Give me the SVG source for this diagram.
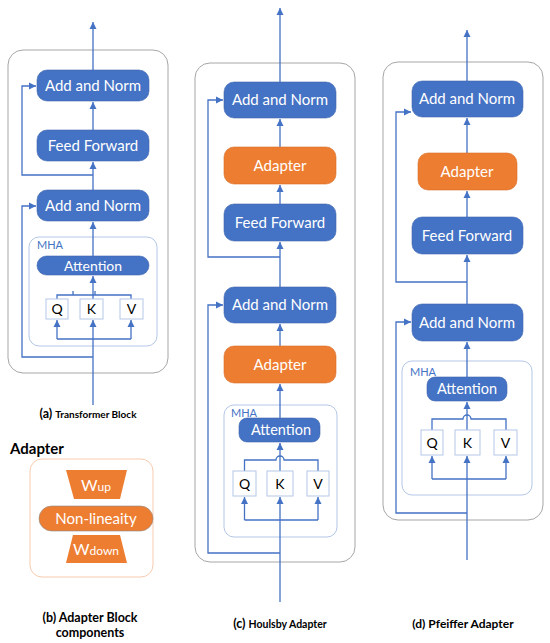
<svg xmlns="http://www.w3.org/2000/svg" width="550" height="643" viewBox="0 0 550 643">
<defs>
<marker id="ah" markerUnits="userSpaceOnUse" markerWidth="8" markerHeight="8" refX="7" refY="4" orient="auto">
<path d="M0,0.5 L7,4 L0,7.5 Z" fill="#4472C4"/>
</marker>
<style>
.frame{fill:#fff;stroke:#a6a6a6;stroke-width:1}
.mha{fill:none;stroke:#b4c7e7;stroke-width:1}
.bn{fill:#4472C4;stroke:#3f67b0;stroke-width:0.6}
.on{fill:#ED7D31;stroke:#d86f2a;stroke-width:0.6}
.qkv{fill:#fff;stroke:#b4c7e7;stroke-width:1}
.c{fill:none;stroke:#4472C4;stroke-width:1.3}
.a{marker-end:url(#ah)}
.t{font-family:Lato,"Liberation Sans",sans-serif;fill:#fff;text-anchor:middle}
.k{font-family:Lato,"Liberation Sans",sans-serif;fill:#000;text-anchor:middle;font-size:14px}
.m{font-family:Lato,"Liberation Sans",sans-serif;fill:#4472C4;font-size:11px}
.cap{font-family:Lato,"Liberation Sans",sans-serif;font-weight:bold;fill:#000;text-anchor:middle}
</style>
</defs>
<rect width="550" height="643" fill="#fff"/>

<!-- frames -->
<g id="frame-a"><rect class="frame" x="8" y="50" width="160" height="323" rx="15"/></g>
<g id="frame-c"><rect class="frame" x="195" y="63" width="160" height="499" rx="15"/></g>
<g id="frame-d"><rect class="frame" x="383" y="62" width="160" height="458" rx="15"/></g>
<g id="mha-a"><rect class="mha" x="29" y="237" width="128" height="109" rx="10"/><text class="m" x="37" y="249">MHA</text></g>
<g id="mha-c"><rect class="mha" x="224" y="405" width="113" height="132" rx="10"/><text class="m" x="231" y="417">MHA</text></g>
<g id="mha-d"><rect class="mha" x="402" y="361" width="130" height="134" rx="10"/><text class="m" x="410" y="376">MHA</text></g>

<!-- connectors -->
<g id="connectors">
<!-- (a) -->
<path class="c a" d="M93,70 V22"/>
<path class="c a" d="M93,130 V102"/>
<path class="c a" d="M93,191 V162"/>
<path class="c a" d="M93,175 H22 V86 H36"/>
<path class="c a" d="M93,256 V222"/>
<path class="c a" d="M93,357 H22 V206 H36"/>
<path class="c a" d="M93,299 V276"/>
<path class="c" d="M57,299 V295 H131 V299"/>
<path class="c" d="M73,295 V291 M95,295 V291"/>
<path class="c a" d="M93,405 V320"/>
<path class="c a" d="M57,339 V320"/>
<path class="c a" d="M131,339 V320"/>
<path class="c" d="M57,339 H131"/>
<!-- (c) -->
<path class="c a" d="M280,82 V8"/>
<path class="c a" d="M280,147 V119"/>
<path class="c a" d="M280,204 V185"/>
<path class="c a" d="M280,287 V242"/>
<path class="c a" d="M280,257 H208 V100 H223"/>
<path class="c a" d="M280,346 V324"/>
<path class="c a" d="M280,418 V384"/>
<path class="c a" d="M280,553 H208 V305 H223"/>
<path class="c a" d="M280,471 V443"/>
<path class="c" d="M244.5,471 V460 H276 A4,4 0 0 1 284,460 H318 V471"/>
<path class="c a" d="M280,602 V497"/>
<path class="c" d="M244.5,520 H318"/>
<path class="c a" d="M244.5,520 V497"/>
<path class="c a" d="M318,520 V497"/>
<!-- (d) -->
<path class="c a" d="M467,81 V30"/>
<path class="c a" d="M467,153 V118"/>
<path class="c a" d="M467,217 V191"/>
<path class="c a" d="M467,304 V255"/>
<path class="c a" d="M467,282 H396 V112 H411"/>
<path class="c a" d="M467,377 V342"/>
<path class="c a" d="M467,513 H396 V322 H411"/>
<path class="c a" d="M467,430 V402"/>
<path class="c" d="M432,430 V419 H463 A4,4 0 0 1 471,419 H506 V430"/>
<path class="c a" d="M467,560 V456"/>
<path class="c" d="M432,479 H506"/>
<path class="c a" d="M432,479 V456"/>
<path class="c a" d="M506,479 V456"/>
</g>

<!-- (a) nodes -->
<g id="a-addnorm2"><rect class="bn" x="37" y="70" width="112" height="31" rx="10"/><text class="t" x="93" y="91" font-size="15">Add and Norm</text></g>
<g id="a-ff"><rect class="bn" x="37" y="130" width="112" height="31" rx="10"/><text class="t" x="93" y="151" font-size="15">Feed Forward</text></g>
<g id="a-addnorm1"><rect class="bn" x="37" y="190" width="112" height="31" rx="10"/><text class="t" x="93" y="211" font-size="15">Add and Norm</text></g>
<g id="a-att"><rect class="bn" x="37" y="256" width="112" height="19" rx="9.5"/><text class="t" x="93" y="270.5" font-size="14">Attention</text></g>
<g id="a-q"><rect class="qkv" x="46" y="299" width="22" height="20"/><text class="k" x="57" y="314">Q</text></g>
<g id="a-k"><rect class="qkv" x="80" y="299" width="23" height="20"/><text class="k" x="91.5" y="314">K</text></g>
<g id="a-v"><rect class="qkv" x="120" y="299" width="23" height="20"/><text class="k" x="131.5" y="314">V</text></g>

<!-- (b) adapter components -->
<g id="b-adapter">
<text x="10" y="454" font-family="Lato,'Liberation Sans',sans-serif" font-weight="bold" font-size="15" fill="#000">Adapter</text>
<rect x="30" y="459" width="123" height="118" rx="12" fill="#fff" stroke="#f8cbad" stroke-width="1"/>
</g>
<g id="b-wup"><polygon points="66,470 127,470 120,499 74,499" fill="#ED7D31"/><text class="t" x="96" y="491" font-size="16">W<tspan font-size="12">up</tspan></text></g>
<g id="b-nonlin"><rect x="39" y="506" width="114" height="25" rx="12.5" fill="#ED7D31" stroke="#8c8c8c" stroke-width="0.6"/><text class="t" x="96" y="524" font-size="15">Non-lineaity</text></g>
<g id="b-wdown"><polygon points="73,535 120,535 127,563 66,563" fill="#ED7D31"/><text class="t" x="96" y="555" font-size="16">W<tspan font-size="12">down</tspan></text></g>

<!-- (c) nodes -->
<g id="c-addnorm2"><rect class="bn" x="224" y="82" width="112" height="36" rx="10"/><text class="t" x="280" y="105" font-size="15">Add and Norm</text></g>
<g id="c-adapter2"><rect class="on" x="224" y="147" width="112" height="37" rx="10"/><text class="t" x="280" y="170.5" font-size="15">Adapter</text></g>
<g id="c-ff"><rect class="bn" x="224" y="204" width="112" height="37" rx="10"/><text class="t" x="280" y="227.5" font-size="15">Feed Forward</text></g>
<g id="c-addnorm1"><rect class="bn" x="224" y="287" width="112" height="36" rx="10"/><text class="t" x="280" y="310" font-size="15">Add and Norm</text></g>
<g id="c-adapter1"><rect class="on" x="224" y="346" width="112" height="37" rx="10"/><text class="t" x="280" y="369.5" font-size="15">Adapter</text></g>
<g id="c-att"><rect class="bn" x="239" y="418" width="81" height="24" rx="8"/><text class="t" x="281" y="435" font-size="14.5">Attention</text></g>
<g id="c-q"><rect class="qkv" x="233" y="471" width="23" height="25"/><text class="k" x="244.5" y="488.5">Q</text></g>
<g id="c-k"><rect class="qkv" x="267" y="471" width="26" height="25"/><text class="k" x="280" y="488.5">K</text></g>
<g id="c-v"><rect class="qkv" x="307" y="471" width="22" height="25"/><text class="k" x="318" y="488.5">V</text></g>

<!-- (d) nodes -->
<g id="d-addnorm2"><rect class="bn" x="412" y="81" width="111" height="36" rx="10"/><text class="t" x="467" y="104" font-size="15">Add and Norm</text></g>
<g id="d-adapter"><rect class="on" x="418" y="153" width="99" height="37" rx="10"/><text class="t" x="467" y="176.5" font-size="15">Adapter</text></g>
<g id="d-ff"><rect class="bn" x="412" y="217" width="111" height="37" rx="10"/><text class="t" x="467" y="240.5" font-size="15">Feed Forward</text></g>
<g id="d-addnorm1"><rect class="bn" x="412" y="304" width="111" height="37" rx="10"/><text class="t" x="467" y="327.5" font-size="15">Add and Norm</text></g>
<g id="d-att"><rect class="bn" x="427" y="377" width="80" height="24" rx="8"/><text class="t" x="467" y="394" font-size="14.5">Attention</text></g>
<g id="d-q"><rect class="qkv" x="421" y="430" width="22" height="25"/><text class="k" x="432" y="447.5">Q</text></g>
<g id="d-k"><rect class="qkv" x="455" y="430" width="25" height="25"/><text class="k" x="467.5" y="447.5">K</text></g>
<g id="d-v"><rect class="qkv" x="494" y="430" width="23" height="25"/><text class="k" x="505.5" y="447.5">V</text></g>

<!-- captions -->
<g id="captions">
<text class="cap" x="88" y="418"><tspan font-size="12.5">(a) </tspan><tspan font-size="10">Transformer Block</tspan></text>
<text class="cap" x="90" y="622" font-size="12.5">(b) Adapter Block</text>
<text class="cap" x="90" y="637" font-size="12.5">components</text>
<text class="cap" x="280" y="628"><tspan font-size="12.5">(c) </tspan><tspan font-size="10.5">Houlsby Adapter</tspan></text>
<text class="cap" x="463" y="628" font-size="12">(d) Pfeiffer Adapter</text>
</g>
</svg>
